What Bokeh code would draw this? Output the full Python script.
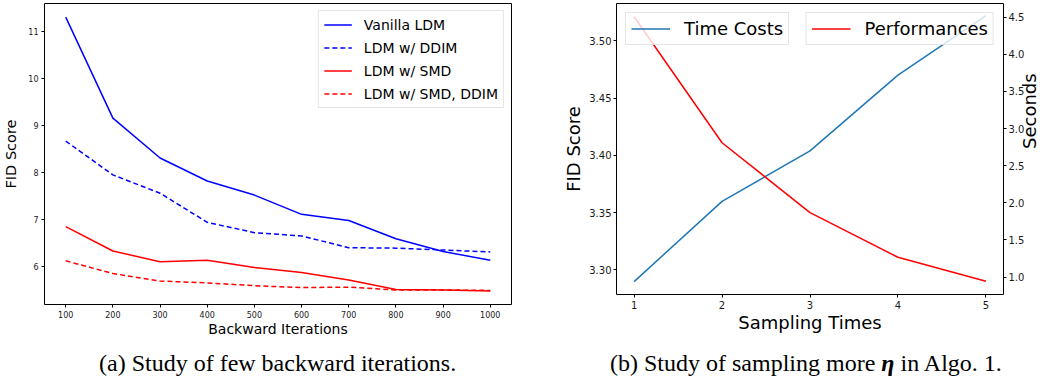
import math
from bokeh.plotting import figure
from bokeh.layouts import row, column
from bokeh.models import Range1d, LinearAxis, FixedTicker, PrintfTickFormatter, Legend, LegendItem, Div
from bokeh.embed import file_html
from bokeh.resources import INLINE

# ---------------- data ----------------
iterations = [100, 200, 300, 400, 500, 600, 700, 800, 900, 1000]
vanilla_ldm = [11.31, 9.16, 8.31, 7.82, 7.52, 7.11, 6.98, 6.59, 6.32, 6.13]
ldm_ddim = [8.67, 7.95, 7.56, 6.94, 6.72, 6.65, 6.40, 6.39, 6.35, 6.31]
ldm_smd = [6.85, 6.33, 6.10, 6.13, 5.98, 5.87, 5.71, 5.51, 5.50, 5.48]
ldm_smd_ddim = [6.12, 5.85, 5.69, 5.65, 5.59, 5.55, 5.56, 5.50, 5.50, 5.49]

sampling_times = [1, 2, 3, 4, 5]
performances = [3.521, 3.411, 3.350, 3.311, 3.290]
time_costs = [0.94, 2.02, 2.70, 3.72, 4.52]

x_ticks_a = [100, 200, 300, 400, 500, 600, 700, 800, 900, 1000]
y_ticks_a = [6, 7, 8, 9, 10, 11]
x_ticks_b = [1, 2, 3, 4, 5]
y_ticks_b = [3.30, 3.35, 3.40, 3.45, 3.50]
y2_ticks_b = [1.0, 1.5, 2.0, 2.5, 3.0, 3.5, 4.0, 4.5]

FONT = "DejaVu Sans"
TICK_COLOR = "#1a1a1a"


def style_axis(ax, tick_size, label_size, standoff=3):
    ax.axis_line_color = None
    ax.major_tick_out = 3
    ax.major_tick_in = 0
    ax.major_tick_line_color = "black"
    ax.minor_tick_line_color = None
    ax.major_label_text_font = FONT
    ax.major_label_text_font_size = tick_size
    ax.major_label_text_color = TICK_COLOR
    ax.major_label_standoff = standoff
    ax.axis_label_text_font = FONT
    ax.axis_label_text_font_size = label_size
    ax.axis_label_text_font_style = "normal"
    ax.axis_label_text_color = "black"


def style_fig(p):
    p.xgrid.visible = False
    p.ygrid.visible = False
    p.outline_line_color = "black"
    p.outline_line_width = 1
    p.background_fill_color = "white"
    p.border_fill_color = "white"


# ---------------- panel (a) ----------------
pa = figure(width=560, height=355, x_range=Range1d(55, 1045), y_range=Range1d(5.19, 11.6),
            output_backend="svg", toolbar_location=None,
            min_border_left=42, min_border_right=49, min_border_top=3, min_border_bottom=51)
style_fig(pa)
pa.xaxis.ticker = FixedTicker(ticks=x_ticks_a)
pa.yaxis.ticker = FixedTicker(ticks=y_ticks_a)
pa.xaxis.axis_label = "Backward Iterations"
pa.yaxis.axis_label = "FID Score"
style_axis(pa.xaxis[0], "8px", "14px")
style_axis(pa.yaxis[0], "8px", "14.5px")
pa.xaxis.axis_label_standoff = 0
pa.yaxis.axis_label_standoff = 6

r1 = pa.line(iterations, vanilla_ldm, line_color="#0000ff", line_width=1.5)
r2 = pa.line(iterations, ldm_ddim, line_color="#0000ff", line_width=1.5, line_dash="5 3")
r3 = pa.line(iterations, ldm_smd, line_color="#ff0000", line_width=1.5)
r4 = pa.line(iterations, ldm_smd_ddim, line_color="#ff0000", line_width=1.5, line_dash="5 3")

leg_a = Legend(items=[LegendItem(label="Vanilla LDM", renderers=[r1]),
                      LegendItem(label="LDM w/ DDIM", renderers=[r2]),
                      LegendItem(label="LDM w/ SMD", renderers=[r3]),
                      LegendItem(label="LDM w/ SMD, DDIM", renderers=[r4])],
               location="top_right")
leg_a.margin = 7
leg_a.padding = 5
leg_a.spacing = 6
leg_a.label_height = 17
leg_a.glyph_height = 17
leg_a.glyph_width = 28
leg_a.label_standoff = 12
leg_a.label_text_font = FONT
leg_a.label_text_font_size = "14px"
leg_a.label_text_color = "black"
leg_a.border_line_color = "#cccccc"
leg_a.background_fill_alpha = 0.8
pa.add_layout(leg_a)

# ---------------- panel (b) ----------------
pb = figure(width=493, height=345, x_range=Range1d(0.8, 5.2), y_range=Range1d(3.2785, 3.5326),
            output_backend="svg", toolbar_location=None,
            min_border_left=56, min_border_right=48, min_border_top=3, min_border_bottom=51)
style_fig(pb)
pb.extra_y_ranges = {"sec": Range1d(0.766, 4.684)}
pb.xaxis.ticker = FixedTicker(ticks=x_ticks_b)
pb.yaxis.ticker = FixedTicker(ticks=y_ticks_b)
pb.yaxis.formatter = PrintfTickFormatter(format="%.2f")
pb.xaxis.axis_label = "Sampling Times"
pb.yaxis.axis_label = "FID Score"
style_axis(pb.xaxis[0], "10px", "18px", standoff=3)
style_axis(pb.yaxis[0], "10px", "18px", standoff=2)
pb.xaxis.axis_label_standoff = 0
pb.yaxis.axis_label_standoff = 2

ax_r = LinearAxis(y_range_name="sec", axis_label="Seconds",
                  ticker=FixedTicker(ticks=y2_ticks_b),
                  formatter=PrintfTickFormatter(format="%.1f"))
style_axis(ax_r, "10px", "18px", standoff=2)
ax_r.axis_label_standoff = 2
ax_r.axis_label_orientation = math.pi / 2
pb.add_layout(ax_r, "right")

rt = pb.line(sampling_times, time_costs, line_color="#1f77b4", line_width=1.5, y_range_name="sec")
rp = pb.line(sampling_times, performances, line_color="#ff0000", line_width=1.5)


def small_legend(item, loc):
    lg = Legend(items=[item], location=loc)
    lg.margin = 9
    lg.padding = 5
    lg.spacing = 0
    lg.label_height = 21
    lg.glyph_height = 21
    lg.glyph_width = 39
    lg.label_standoff = 14
    lg.label_text_font = FONT
    lg.label_text_font_size = "18px"
    lg.label_text_color = "black"
    lg.border_line_color = "#cccccc"
    lg.background_fill_alpha = 0.8
    return lg


pb.add_layout(small_legend(LegendItem(label="Time Costs", renderers=[rt]), "top_left"))
pb.add_layout(small_legend(LegendItem(label="Performances", renderers=[rp]), "top_right"))

# ---------------- captions ----------------
cap_style = "font-family:'Liberation Serif',serif;font-size:24px;line-height:24px;color:black;white-space:nowrap;"
cap_a = Div(text=f'<div style="{cap_style}padding-left:99px;margin-top:-4px;">(a) Study of few backward iterations.</div>',
            width=560, height=22, margin=0)
cap_b = Div(text=f'<div style="{cap_style}padding-left:50px;padding-top:6px;">(b) Study of sampling more <b><i>\u03b7</i></b> in Algo. 1.</div>',
            width=493, height=32, margin=0)

layout = row(column(pa, cap_a, spacing=0), column(pb, cap_b, spacing=0), spacing=0, margin=0)

open("out.html", "w").write(file_html(layout, INLINE))
